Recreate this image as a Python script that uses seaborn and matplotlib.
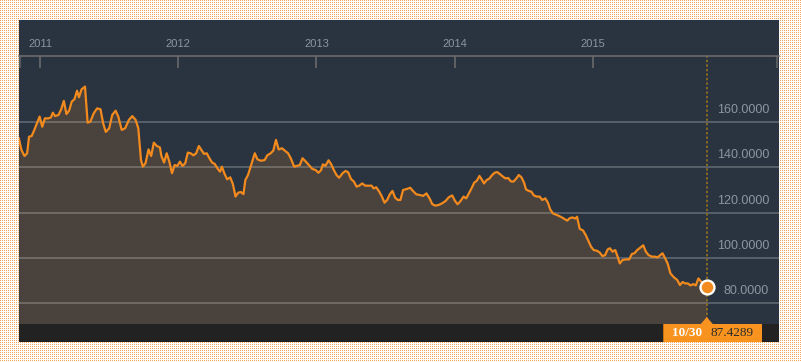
import numpy as np
import pandas as pd
import matplotlib
matplotlib.use("Agg")
import matplotlib.pyplot as plt
import matplotlib.dates as mdates
from matplotlib.colors import to_rgb
from matplotlib.patches import Rectangle, Polygon
import seaborn as sns

# weekly closes, dates given as days after 2011-01-01
BASE_DATE = pd.Timestamp("2011-01-01")

day_offset = [
    -56, -49, -41, -34, -29, -22, -15, -8, -1, 6, 13, 22, 29, 34, 40, 49, 56, 63, 70, 77,
    84, 91, 98, 103, 110, 119, 126, 133, 142, 151, 160, 167, 174, 183, 191, 200, 207, 216,
    225, 235, 244, 253, 260, 267, 272, 279, 287, 294, 301, 309, 317,
    321, 328, 335, 342, 349, 356, 363, 370, 377, 384, 391, 398, 406, 413, 420, 427, 434,
    441, 448, 455, 462, 469, 476, 481, 488, 495, 503, 510, 517, 524, 531, 538, 543, 550,
    557, 568, 575, 584, 594, 601, 610, 617, 624, 631, 640, 647, 656, 663, 672,
    681, 687, 694, 703, 711, 720, 729, 736, 743, 748, 755, 763, 770, 777, 784, 791, 800,
    808, 815, 822, 830, 837, 844, 852, 860, 868, 877, 882, 889, 897, 904, 911, 918, 925,
    932, 939, 946, 953, 960, 969, 979, 986, 995, 1004, 1013, 1022, 1031,
    1037, 1045, 1054, 1063, 1072, 1081, 1090, 1097, 1104, 1111, 1120, 1127, 1134, 1141,
    1148, 1155, 1162, 1169, 1174, 1181, 1188, 1195, 1202, 1209, 1217, 1224, 1231, 1238,
    1245, 1252, 1259, 1266, 1273, 1280, 1285, 1292, 1299, 1306, 1313, 1321, 1328, 1336,
    1343, 1349, 1356, 1365, 1373, 1380, 1388,
    1394, 1401, 1408, 1415, 1420, 1427, 1436, 1443, 1450, 1457, 1464, 1473, 1480, 1487,
    1494, 1501, 1507, 1514, 1521, 1528, 1533, 1540, 1549, 1558, 1565, 1572, 1579, 1588,
    1595, 1602, 1609, 1618, 1626, 1633, 1640, 1646, 1653, 1660, 1667, 1676, 1685, 1692,
    1699, 1706, 1713, 1720, 1727, 1734, 1741, 1748, 1755, 1763,
]

close = [
    152.8, 147.6, 145.0, 146.2, 153.5, 153.8, 156.5, 159.4, 162.4, 157.9, 161.6, 161.6,
    162.0, 164.1, 162.6, 163.1, 165.6, 169.3, 163.5, 165.0, 169.0, 170.0, 173.8, 170.9,
    174.4, 175.6, 159.7, 160.1, 163.8, 166.0, 165.6, 159.4, 155.6, 157.2, 163.1, 165.0,
    162.4, 156.5, 157.2, 160.9, 162.6, 160.9, 157.2, 143.2, 140.3, 141.8, 147.9, 145.0,
    150.9, 149.4, 148.8,
    145.0, 142.1, 146.2, 142.5, 137.4, 141.0, 140.6, 142.5, 140.6, 141.8, 146.5, 146.2,
    145.3, 146.2, 149.4, 147.6, 145.9, 146.2, 144.0, 142.1, 141.5, 139.6, 138.1, 140.3,
    137.1, 134.7, 135.6, 132.6, 127.1, 128.8, 129.1, 128.2, 134.4, 136.6, 140.3, 146.2,
    143.5, 142.9, 143.2, 145.3, 146.2, 147.4, 152.1, 147.9, 148.4, 147.4, 146.2, 144.0,
    140.3,
    140.7, 141.0, 144.0, 142.5, 141.0, 139.3, 138.8, 137.6, 138.7, 141.3, 140.7, 143.1,
    141.3, 138.8, 136.6, 135.4, 137.4, 138.4, 137.8, 134.9, 133.7, 131.5, 131.9, 132.9,
    131.9, 131.9, 131.9, 130.7, 131.2, 129.3, 127.1, 124.4, 125.6, 128.1, 129.6, 126.6,
    125.6, 125.6, 130.0, 130.4, 131.0, 129.6, 128.1, 127.8, 127.4, 128.5, 126.0,
    123.8, 123.1, 123.4, 124.1, 125.1, 126.8, 127.6, 125.3, 123.7, 124.9, 127.1, 126.3,
    128.5, 130.7, 133.2, 134.1, 136.2, 134.4, 132.9, 134.4, 135.0, 136.5, 137.6, 137.9,
    136.9, 135.9, 135.1, 135.3, 133.8, 133.7, 135.0, 136.6, 135.6, 133.2, 130.3, 129.6,
    129.3, 127.6, 127.1, 127.1, 125.6, 126.3, 124.4, 121.5, 119.7, 119.1, 118.5, 117.9,
    117.1,
    116.5, 117.6, 117.9, 117.4, 118.2, 112.9, 112.1, 110.1, 107.6, 105.0, 103.5, 103.2,
    102.4, 100.9, 101.2, 103.8, 104.3, 102.8, 103.5, 100.3, 97.6, 99.1, 99.4, 99.4,
    101.8, 102.1, 103.5, 104.7, 105.6, 102.8, 101.3, 100.6, 100.6, 100.3, 101.3, 102.1,
    99.9, 97.4, 93.2, 91.5, 90.3, 88.1, 89.4, 88.8, 88.8, 87.9, 88.5, 87.9, 91.0, 89.6,
    88.8, 87.4289,
]

year_labels = ["2011", "2012", "2013", "2014", "2015"]
grid_levels = [80, 100, 120, 140, 160]

PANEL = "#2a3440"
FILL = "#4a423c"
ORANGE = "#f28a1e"
TAG = "#f7931e"
DOTS = "#f0a560"
RULE = "#6e6e6e"
W, H = 801, 362

df = pd.DataFrame({
    "date": BASE_DATE + pd.to_timedelta(day_offset, unit="D"),
    "close": close,
})
last_date = df["date"].iloc[-1]
last_close = df["close"].iloc[-1]


def fig_box(x0, y0, x1, y1):
    # pixel box measured from the top-left corner -> figure fraction
    return (x0 / W, 1 - y1 / H), (x1 - x0) / W, (y1 - y0) / H


fig = plt.figure(figsize=(W / 100, H / 100), dpi=100)

# dotted page background
bg = np.ones((H, W, 3))
bg[::2, ::2] = to_rgb(DOTS)
fig.figimage(bg, 0, 0, zorder=0)

xy, w, h = fig_box(19, 20, 779, 342)
fig.add_artist(Rectangle(xy, w, h, transform=fig.transFigure, fc=PANEL, lw=0, zorder=1))

xy, w, h = fig_box(19, 56, 779, 324)
ax = fig.add_axes([xy[0], xy[1], w, h])
ax.set_zorder(2)
ax.set_facecolor(PANEL)

ymin, ymax = 70.9, 189.1
ax.fill_between(df["date"], df["close"], ymin, color=FILL, lw=0, zorder=1)
for lvl in grid_levels:
    ax.axhline(lvl, color="white", alpha=0.27, lw=1.1, zorder=2)
sns.lineplot(data=df, x="date", y="close", ax=ax, color=ORANGE, lw=1.6, zorder=3)
ax.axvline(last_date, color="#8f6d1c", lw=1.3, ls=(0, (1.3, 1.2)), zorder=2)
ax.plot([last_date], [last_close], "o", ms=10, mfc=ORANGE, mec="white", mew=1.7,
        zorder=5, clip_on=False)

x_lo = BASE_DATE + pd.Timedelta(days=-55.5)
x_hi = BASE_DATE + pd.Timedelta(days=1954)
ax.set_xlim(x_lo, x_hi)
ax.set_ylim(ymin, ymax)
ax.set_xlabel("")
ax.set_ylabel("")
ax.set_yticks([])

ax.set_xticks([mdates.date2num(pd.Timestamp(f"{y}-01-01")) for y in year_labels])
ax.set_xticklabels(year_labels, fontsize=8, color="#8c96a0", family="Liberation Sans")
ax.xaxis.tick_top()
ax.tick_params(axis="x", direction="in", length=8.6, width=1.1, color=RULE, pad=5)
# short marks at both panel edges
ax.set_xticks([mdates.date2num(x_lo + pd.Timedelta(days=3)),
               mdates.date2num(x_hi - pd.Timedelta(days=5))], minor=True)
ax.tick_params(axis="x", which="minor", direction="in", length=8.6, width=1.5,
               color="#555a60", top=True, bottom=False)
for side in ["left", "right", "bottom"]:
    ax.spines[side].set_visible(False)
ax.spines["top"].set_color(RULE)
ax.spines["top"].set_linewidth(1.1)

for lvl in grid_levels:
    ax.annotate(f"{lvl:.4f}", xy=(1, lvl), xycoords=("axes fraction", "data"),
                xytext=(-10, 12), textcoords="offset pixels", ha="right", va="center",
                fontsize=9, color="#8a96a2", family="Liberation Sans")

# bottom bar with the last-value tag
xy, w, h = fig_box(19, 324, 779, 342)
fig.add_artist(Rectangle(xy, w, h, transform=fig.transFigure, fc="#222222", lw=0, zorder=3))

fig.canvas.draw()
xp = ax.transData.transform((mdates.date2num(last_date), last_close))[0]
xy, w, h = fig_box(xp - 44, 324, xp + 55, 342)
fig.add_artist(Rectangle(xy, w, h, transform=fig.transFigure, fc=TAG, lw=0, zorder=4))
xy, w, h = fig_box(xp - 44, 324, xp - 43, 342)
fig.add_artist(Rectangle(xy, w, h, transform=fig.transFigure, fc="#c96f10", lw=0, zorder=4))
tri = [((xp - 6) / W, 1 - 324 / H), ((xp + 6) / W, 1 - 324 / H), (xp / W, 1 - 317 / H)]
fig.add_artist(Polygon(tri, closed=True, transform=fig.transFigure, fc=TAG, lw=0, zorder=4))
fig.text((xp - 20) / W, 1 - 333 / H, f"{last_date:%m/%d}", ha="center", va="center",
         fontsize=9.5, fontweight="bold", color="white", family="Liberation Serif", zorder=5)
fig.text((xp + 25.5) / W, 1 - 333 / H, f"{last_close:.4f}", ha="center", va="center",
         fontsize=9.5, color="#2a2a2a", family="Liberation Serif", zorder=5)

fig.savefig("out.png", dpi=100)
